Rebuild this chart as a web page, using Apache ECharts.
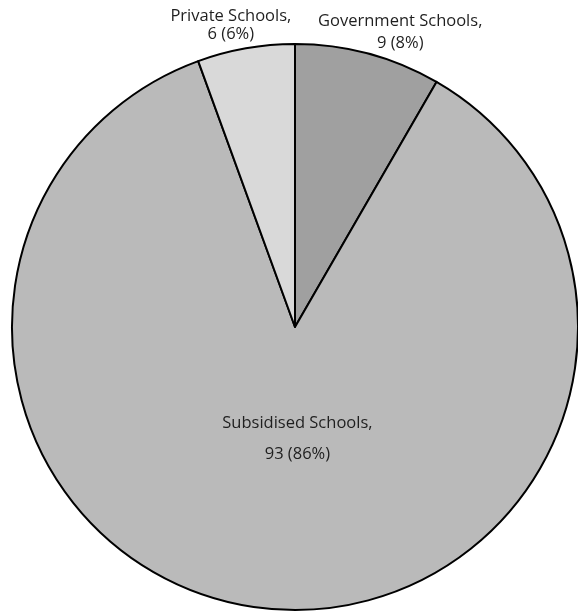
<!DOCTYPE html>
<html>
<head>
<meta charset="utf-8">
<script src="https://cdn.jsdelivr.net/npm/echarts@6/dist/echarts.min.js"></script>
<style>
  html, body { margin: 0; padding: 0; background: #fff; }
  #chart { width: 578px; height: 612px; }
</style>
</head>
<body>
<div id="chart"></div>
<script>
// Schools by type
const categories = ['Government Schools', 'Subsidised Schools', 'Private Schools'];
const counts = [9, 93, 6];
const sliceColors = ['#a0a0a0', '#bababa', '#d9d9d9'];

// label nudges relative to the slice's outer edge (or inner anchor for the big slice)
const labelShift = [[32, -21], [15, -32], [-15, -23]];
const labelLineHeights = [22, 31, 18];

const chart = echarts.init(document.getElementById('chart'), null, { renderer: 'canvas' });

const data = categories.map((name, i) => ({
  name: name,
  value: counts[i],
  itemStyle: { color: sliceColors[i] },
  label: {
    position: i === 1 ? 'inside' : 'outside',
    lineHeight: labelLineHeights[i]
  }
}));

chart.setOption({
  animation: false,
  series: [{
    type: 'pie',
    center: [295, 327],
    radius: 283,
    startAngle: 90,
    clockwise: true,
    avoidLabelOverlap: false,
    itemStyle: { borderColor: '#000', borderWidth: 2 },
    label: {
      show: true,
      fontFamily: 'Open Sans',
      fontSize: 16.5,
      color: '#1f1f1f',
      formatter: p => p.name + ',\n' + p.value + ' (' + Math.round(p.percent) + '%)'
    },
    labelLine: { show: true, length: 0, length2: 0, lineStyle: { opacity: 0 } },
    labelLayout: function (params) {
      const s = labelShift[params.dataIndex];
      if (params.dataIndex === 1) {
        return { dx: s[0], dy: s[1] };
      }
      const pts = params.labelLinePoints;
      if (pts && pts.length) {
        return {
          x: pts[0][0] + s[0],
          y: pts[0][1] + s[1],
          align: 'center',
          verticalAlign: 'middle'
        };
      }
      return {};
    },
    data: data
  }]
});
</script>
</body>
</html>
